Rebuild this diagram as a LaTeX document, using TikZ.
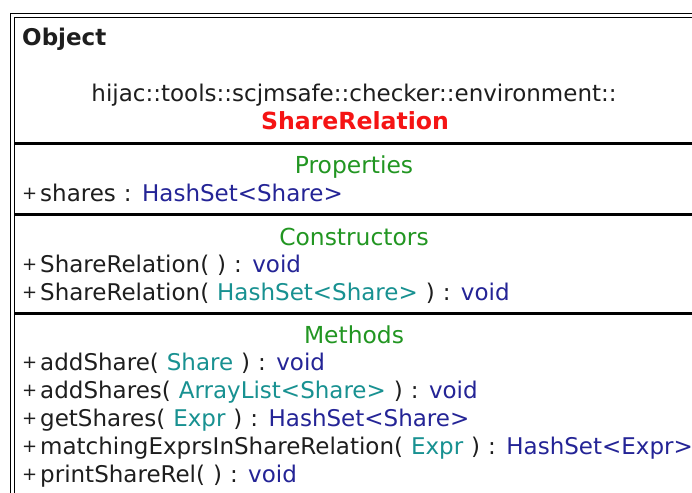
\documentclass[tikz,border=0pt]{standalone}
\usepackage{fontspec}
\setmainfont{DejaVu Sans}
\definecolor{hdrgreen}{RGB}{34,150,34}
\definecolor{typeblue}{RGB}{36,36,150}
\definecolor{paramteal}{RGB}{24,145,145}
\definecolor{txtgray}{RGB}{30,30,30}
\definecolor{namered}{RGB}{245,20,20}
\newcommand{\rettype}[1]{\textcolor{typeblue}{#1}}
\newcommand{\partype}[1]{\textcolor{paramteal}{#1}}
% member rows: body font with fixed word spaces
\newcommand{\memberfont}{\fontsize{23}{28}\selectfont\spaceskip=8pt\relax}
% visibility marker: a small plus in a fixed-width slot
\newcommand{\pubmark}{\makebox[18pt][l]{\raisebox{1.8pt}{\fontsize{18}{18}\selectfont +}}}

\begin{document}
\begin{tikzpicture}[x=1pt,y=-1pt,
  member/.style={anchor=base west, inner sep=0pt, text=txtgray, font=\memberfont},
  header/.style={anchor=base, inner sep=0pt, text=hdrgreen,
    font=\fontsize{23.4}{28}\selectfont},
  frameline/.style={line width=1.3pt, black},
  divider/.style={line width=2.2pt, black}]
\useasboundingbox (0,0) rectangle (692,492);
\fill[white] (0,0) rectangle (692,492);

% double outer frame of the class box
\draw[frameline] (10.5,500) -- (10.5,13.5) -- (700,13.5);
\draw[frameline] (14.5,500) -- (14.5,17.5) -- (700,17.5);

% compartment dividers
\coordinate (d1l) at (14.5,143.5); \coordinate (d1r) at (700,143.5);
\coordinate (d2l) at (14.5,214.5); \coordinate (d2r) at (700,214.5);
\coordinate (d3l) at (14.5,313.5); \coordinate (d3r) at (700,313.5);
\draw[divider] (d1l) -- (d1r);
\draw[divider] (d2l) -- (d2r);
\draw[divider] (d3l) -- (d3r);

% title compartment
\node[anchor=base west, inner sep=0pt, text=txtgray, font=\fontsize{23}{28}\selectfont\bfseries] (stereo) at (22,46) {Object};
\node[anchor=base, inner sep=0pt, text=txtgray, font=\fontsize{23}{28}\selectfont] (pkg) at (354,102) {hijac::tools::scjmsafe::checker::environment::};
\node[anchor=base, inner sep=0pt, text=namered, font=\fontsize{23.6}{28}\selectfont\bfseries] (cname) at (355,129) {ShareRelation};

% properties
\node[header] (hprop) at (354,173) {Properties};
\node[member] (p1) at (22,201) {\pubmark shares : \rettype{HashSet<Share>}};

% constructors
\node[header] (hcons) at (354,245) {Constructors};
\node[member] (c1) at (22,272) {\pubmark ShareRelation( ) : \rettype{void}};
\node[member] (c2) at (22,300) {\pubmark ShareRelation( \partype{HashSet<Share>} ) : \rettype{void}};

% methods
\node[header] (hmeth) at (354,343) {Methods};
\node[member] (m1) at (22,370) {\pubmark addShare( \partype{Share} ) : \rettype{void}};
\node[member] (m2) at (22,398) {\pubmark addShares( \partype{ArrayList<Share>} ) : \rettype{void}};
\node[member] (m3) at (22,426) {\pubmark getShares( \partype{Expr} ) : \rettype{HashSet<Share>}};
\node[member] (m4) at (22,454) {\pubmark matchingExprsInShareRelation( \partype{Expr} ) : \rettype{HashSet<Expr>}};
\node[member] (m5) at (22,482) {\pubmark printShareRel( ) : \rettype{void}};
\end{tikzpicture}
\end{document}
